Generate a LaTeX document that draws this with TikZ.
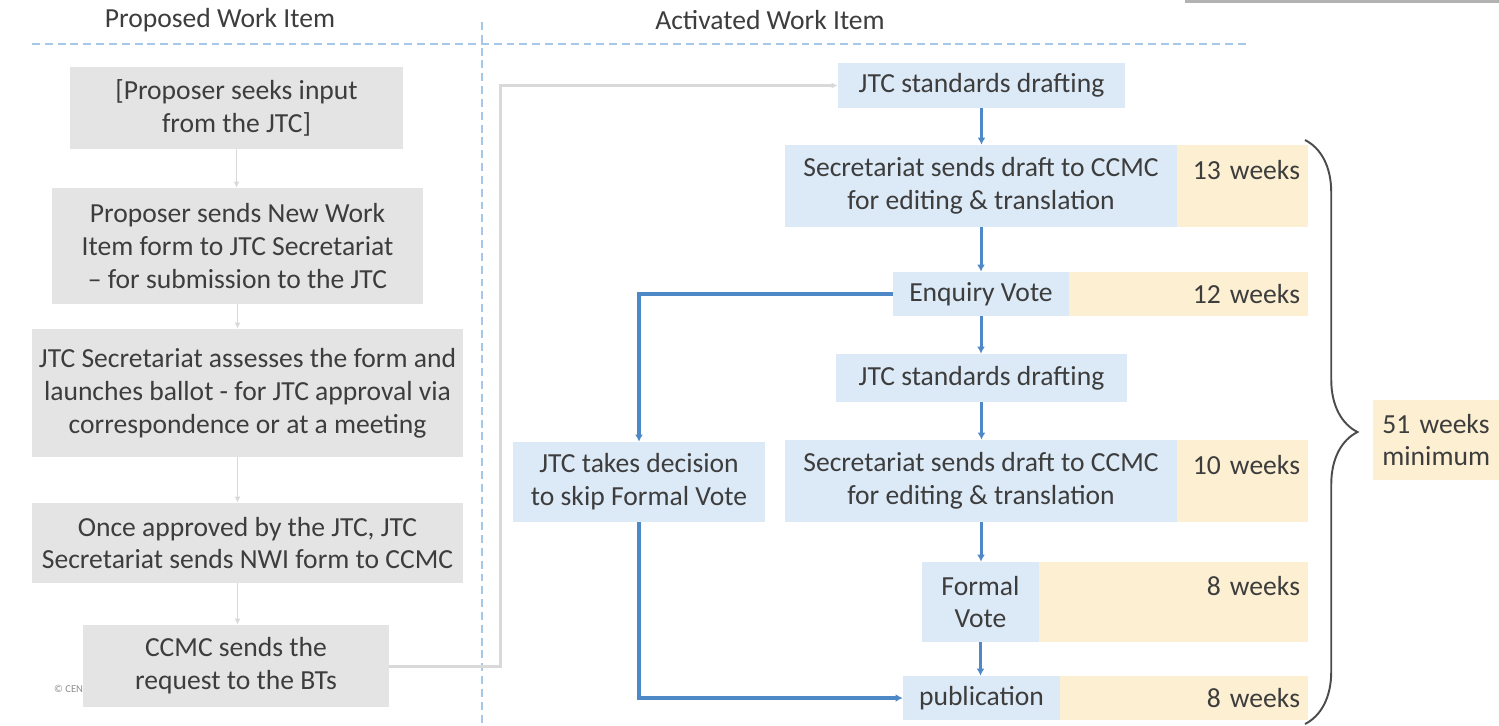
\documentclass[tikz,border=0pt]{standalone}
\usepackage{fontspec}
\setmainfont{Carlito}
\usetikzlibrary{arrows.meta,decorations.pathreplacing}

\definecolor{propgray}{HTML}{E4E4E4}
\definecolor{actblue}{HTML}{DCE9F6}
\definecolor{wkorange}{HTML}{FDEFD2}
\definecolor{txtgray}{HTML}{3D3D3D}
\definecolor{flowblue}{HTML}{4E88C6}
\definecolor{linkgray}{HTML}{D9D9D9}
\definecolor{sepblue}{HTML}{A6C8E8}

\tikzset{
    pbox/.style={fill=propgray, text=txtgray, inner sep=0pt, align=center},
    abox/.style={fill=actblue, text=txtgray, inner sep=0pt, align=center},
    wkbox/.style={fill=wkorange, text=txtgray, inner xsep=0.16cm, inner ysep=0pt, align=right},
    sepline/.style={draw=sepblue, line width=1.1pt, dash pattern=on 4.5pt off 2.8pt},
    steparrow/.style={draw=linkgray, line width=1.1pt, -{Latex[length=3.5pt,width=3.5pt]}},
    flowarrow/.style={draw=flowblue, line width=1.7pt, -{Latex[length=4pt,width=4.5pt]}},
}

\begin{document}
\begin{tikzpicture}[x=0.02cm, y=-0.02cm, font=\fontsize{15.7}{18.7}\selectfont]
    \useasboundingbox (0,0) rectangle (1499,725);

    % Edge of a box at the top right
    \draw[draw=black!30, line width=1.6pt] (1185,1.5) -- (1499,1.5);

    % Column headers and separators
    \node[text=txtgray] (hdprop) at (220,20) {Proposed Work Item};
    \node[text=txtgray] (hdact) at (770,20) {Activated Work Item};
    \draw[sepline] (32,44) -- (1247,44);
    \draw[sepline] (482,22) -- (482,725);

    % Left column: proposed work item
    \node[text=black!45, font=\fontsize{6}{7}\selectfont, anchor=west] (copy) at (48,689) {© CEN};
    \node[pbox, minimum width=6.66cm, minimum height=1.64cm] (p1) at (236.5,108) {[Proposer seeks input\\from the JTC]};
    \node[pbox, minimum width=7.42cm, minimum height=2.32cm] (p2) at (237.5,246) {Proposer sends New Work\\Item form to JTC Secretariat\\– for submission to the JTC};
    \node[pbox, minimum width=8.62cm, minimum height=2.56cm] (p3) at (247.5,393) {JTC Secretariat assesses the form and\\launches ballot - for JTC approval via\\correspondence or at a meeting};
    \node[pbox, minimum width=8.62cm, minimum height=1.60cm] (p4) at (247.5,543) {Once approved by the JTC, JTC\\Secretariat sends NWI form to CCMC};
    \node[pbox, minimum width=6.12cm, minimum height=1.64cm] (p5) at (236,666) {CCMC sends the\\request to the BTs};

    \draw[steparrow] (p1.south) -- (p1.south |- p2.north);
    \draw[steparrow] (p2.south) -- (p2.south |- p3.north);
    \draw[steparrow] (p3.south -| p2.south) -- (p2.south |- p4.north);
    \draw[steparrow] (p4.south -| p2.south) -- (p2.south |- p5.north);

    % Right column: activated work item
    \node[abox, minimum width=5.74cm, minimum height=0.90cm] (dr1) at (981.5,85.5) {JTC standards drafting};
    \node[abox, minimum width=7.84cm, minimum height=1.64cm] (ed1) at (981,186) {Secretariat sends draft to CCMC\\for editing \& translation};
    \node[wkbox, text width=2.30cm, minimum height=1.64cm] (wk13) at (1242.5,186) {13 weeks\\~};
    \node[abox, minimum width=3.52cm, minimum height=0.88cm] (enq) at (981,294) {Enquiry Vote};
    \node[wkbox, text width=4.46cm, minimum height=0.88cm] (wk12) at (1188.5,294) {12 weeks};
    \node[abox, minimum width=5.82cm, minimum height=0.96cm] (dr2) at (981.5,378) {JTC standards drafting};
    \node[abox, minimum width=7.84cm, minimum height=1.64cm] (ed2) at (981,481) {Secretariat sends draft to CCMC\\for editing \& translation};
    \node[wkbox, text width=2.30cm, minimum height=1.64cm] (wk10) at (1242.5,481) {10 weeks\\~};
    \node[abox, minimum width=2.34cm, minimum height=1.60cm] (fv) at (980.5,602) {Formal\\Vote};
    \node[wkbox, text width=5.06cm, minimum height=1.60cm] (wk8a) at (1173.5,602) {8 weeks\\~};
    \node[abox, minimum width=3.14cm, minimum height=0.88cm] (pub) at (981.5,698) {publication};
    \node[wkbox, text width=4.64cm, minimum height=0.88cm] (wk8b) at (1184,698) {8 weeks};
    \node[abox, minimum width=5.04cm, minimum height=1.60cm] (skip) at (639,482) {JTC takes decision\\to skip Formal Vote};

    % Request to the BTs activates the item
    \draw[steparrow, line width=1.7pt] (p5.east) -- ++(111,0) |- (dr1.west);

    \draw[flowarrow] (dr1.south) -- (dr1.south |- ed1.north);
    \draw[flowarrow] (ed1.south) -- (ed1.south |- enq.north);
    \draw[flowarrow] (enq.south) -- (enq.south |- dr2.north);
    \draw[flowarrow] (dr2.south) -- (dr2.south |- ed2.north);
    \draw[flowarrow] (ed2.south) -- (ed2.south |- fv.north);
    \draw[flowarrow] (fv.south) -- (fv.south |- pub.north);

    % Skipping the formal vote
    \draw[flowarrow, line width=2.2pt] (enq.west) -| (skip.north);
    \draw[flowarrow, line width=2.2pt] (skip.south) |- (pub.west);

    % Total duration
    \coordinate (brtop) at (1305,140);
    \coordinate (brbot) at (1305,724);
    \draw[draw=black!70, line width=1.1pt, decorate, decoration={brace, amplitude=1.05cm}] (brtop) -- (brbot);
    \node[fill=wkorange, text=txtgray, inner xsep=0.18cm, inner ysep=0pt, text width=2.6cm, minimum height=1.60cm, align=left, anchor=west] (tot) at (1373,440) {51 weeks\\minimum};
\end{tikzpicture}
\end{document}
